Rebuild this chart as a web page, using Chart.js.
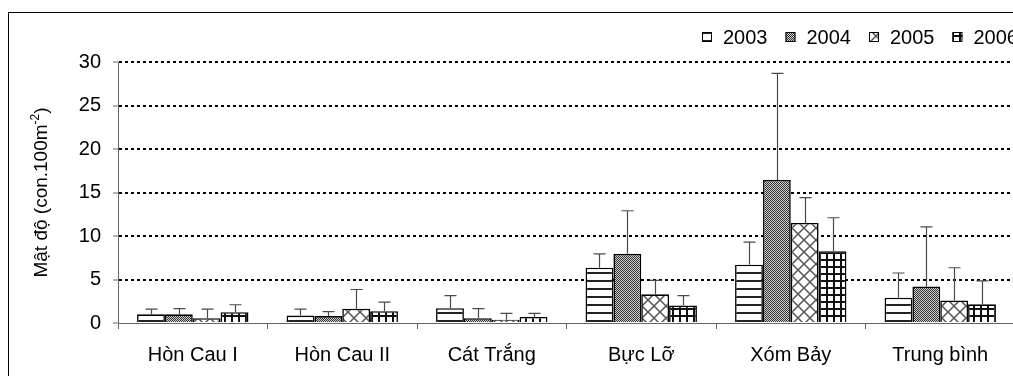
<!DOCTYPE html>
<html>
<head>
<meta charset="utf-8">
<script src="https://cdn.jsdelivr.net/npm/chart.js@4.4.1/dist/chart.umd.min.js"></script>
<style>
  html, body { margin: 0; padding: 0; background: #fff; overflow: hidden; }
  #wrap { position: relative; width: 1040px; height: 376px; }
</style>
</head>
<body>
<div id="wrap"><canvas id="c" width="1040" height="376"></canvas></div>
<script>
// Sampling sites and survey years
const sites = ['Hòn Cau I', 'Hòn Cau II', 'Cát Trắng', 'Bực Lỡ', 'Xóm Bảy', 'Trung bình'];
const years = ['2003', '2004', '2005', '2006'];

// Mean density (con.100m-2) per site, one array per year
const mean2003 = [1.0, 0.85, 1.7, 6.35, 6.7, 2.9];
const mean2004 = [1.0, 0.8, 0.55, 7.95, 16.45, 4.2];
const mean2005 = [0.55, 1.65, 0.38, 3.3, 11.5, 2.6];
const mean2006 = [1.25, 1.35, 0.7, 2.0, 8.25, 2.15];

// Standard deviation (upper error bar) per site
const sd2003 = [0.6, 0.75, 1.45, 1.6, 2.6, 2.85];
const sd2004 = [0.65, 0.5, 1.1, 4.95, 12.25, 6.85];
const sd2005 = [1.05, 2.2, 0.72, 1.6, 2.9, 3.75];
const sd2006 = [0.85, 1.05, 0.4, 1.15, 3.85, 2.7];

// Value axis ticks
const yTickValues = [0, 5, 10, 15, 20, 25, 30];

const FONT = 'Liberation Sans, Arial, Helvetica, sans-serif';

// Monochrome fill patterns, one per year
function makePattern(kind) {
  const t = document.createElement('canvas');
  const g = t.getContext('2d');
  let s;
  if (kind === 'hlines') {
    s = 8; t.width = s; t.height = s;
    g.fillStyle = '#fff'; g.fillRect(0, 0, s, s);
    g.fillStyle = '#222'; g.fillRect(0, 0, s, 2);
  } else if (kind === 'stipple') {
    s = 2; t.width = s; t.height = s;
    g.fillStyle = '#cfcfcf'; g.fillRect(0, 0, s, s);
    g.fillStyle = '#333'; g.fillRect(0, 0, 1, 1); g.fillRect(1, 1, 1, 1);
  } else if (kind === 'diamond') {
    s = 12; t.width = s; t.height = s;
    g.fillStyle = '#fff'; g.fillRect(0, 0, s, s);
    g.strokeStyle = '#555'; g.lineWidth = 1.5;
    g.beginPath();
    g.moveTo(-2, -2); g.lineTo(s + 2, s + 2);
    g.moveTo(s + 2, -2); g.lineTo(-2, s + 2);
    g.stroke();
  } else {
    s = 7; t.width = s; t.height = s;
    g.fillStyle = '#fff'; g.fillRect(0, 0, s, s);
    g.fillStyle = '#111';
    g.fillRect(0, 0, s, 2); g.fillRect(0, 0, 2, s);
  }
  return g.createPattern(t, 'repeat');
}

const means = [mean2003, mean2004, mean2005, mean2006];
const sds = [sd2003, sd2004, sd2005, sd2006];
const fills = ['hlines', 'stipple', 'diamond', 'grid'].map(makePattern);

// Outer frame of the figure
const framePlugin = {
  id: 'frame',
  afterDraw(chart) {
    const ctx = chart.ctx;
    ctx.save();
    ctx.strokeStyle = '#000';
    ctx.lineWidth = 1;
    ctx.strokeRect(8.5, 12.5, 3000, 3000);
    ctx.restore();
  }
};

// Upper error bars with caps
const errorBarPlugin = {
  id: 'errorBars',
  afterDatasetsDraw(chart) {
    const ctx = chart.ctx;
    const y = chart.scales.y;
    ctx.save();
    ctx.strokeStyle = '#4a4a4a';
    ctx.lineWidth = 1.2;
    chart.data.datasets.forEach((ds, i) => {
      const meta = chart.getDatasetMeta(i);
      meta.data.forEach((bar, j) => {
        const top = y.getPixelForValue(ds.data[j] + ds.sd[j]);
        const x = Math.round(bar.x) + 0.5;
        ctx.beginPath();
        ctx.moveTo(x, bar.y);
        ctx.lineTo(x, top);
        ctx.moveTo(x - 6, top);
        ctx.lineTo(x + 6, top);
        ctx.stroke();
      });
    });
    ctx.restore();
  }
};

// Legend row at the top right
const legendPlugin = {
  id: 'patternLegend',
  afterDraw(chart) {
    const ctx = chart.ctx;
    ctx.save();
    ctx.font = '20px ' + FONT;
    ctx.textBaseline = 'middle';
    let x = 702;
    const yc = 37;
    chart.data.datasets.forEach(ds => {
      ctx.fillStyle = ds.backgroundColor;
      ctx.fillRect(x, yc - 5, 10, 10);
      ctx.strokeStyle = '#000';
      ctx.lineWidth = 1;
      ctx.strokeRect(x + 0.5, yc - 4.5, 9, 9);
      ctx.fillStyle = '#000';
      ctx.fillText(ds.label, x + 21, yc + 1);
      x += 21 + ctx.measureText(ds.label).width + 18;
    });
    ctx.restore();
  }
};

// Rotated value-axis title with superscript exponent
const yTitlePlugin = {
  id: 'yTitle',
  afterDraw(chart) {
    const ctx = chart.ctx;
    const area = chart.chartArea;
    const main = 'Mật độ (con.100m';
    const sup = '-2';
    const close = ')';
    ctx.save();
    ctx.translate(40, (area.top + area.bottom) / 2);
    ctx.rotate(-Math.PI / 2);
    ctx.fillStyle = '#000';
    ctx.textBaseline = 'alphabetic';
    ctx.font = '19px ' + FONT;
    const wMain = ctx.measureText(main).width;
    const wClose = ctx.measureText(close).width;
    ctx.font = '12px ' + FONT;
    const wSup = ctx.measureText(sup).width;
    let x = -(wMain + wSup + wClose) / 2;
    const base = 7;
    ctx.font = '19px ' + FONT;
    ctx.fillText(main, x, base);
    x += wMain;
    ctx.font = '12px ' + FONT;
    ctx.fillText(sup, x, base - 8);
    x += wSup;
    ctx.font = '19px ' + FONT;
    ctx.fillText(close, x, base);
    ctx.restore();
  }
};

new Chart(document.getElementById('c'), {
  type: 'bar',
  data: {
    labels: sites,
    datasets: years.map((yr, i) => ({
      label: yr,
      data: means[i],
      sd: sds[i],
      backgroundColor: fills[i],
      borderColor: '#000',
      borderWidth: 1.6,
      categoryPercentage: 0.745,
      barPercentage: 1
    }))
  },
  options: {
    responsive: false,
    animation: false,
    devicePixelRatio: 1,
    layout: { padding: { left: 8, top: 62, right: 25, bottom: 0 } },
    plugins: { legend: { display: false }, tooltip: { enabled: false } },
    scales: {
      x: {
        grid: { offset: true, drawOnChartArea: false, drawTicks: true, tickLength: 6, color: '#666', lineWidth: 1 },
        border: { color: '#666', width: 1 },
        ticks: { color: '#000', font: { family: FONT, size: 20 }, padding: 14, maxRotation: 0, autoSkip: false },
        afterFit(s) { s.height = 53; }
      },
      y: {
        min: 0,
        max: 30,
        afterBuildTicks(s) { s.ticks = yTickValues.map(v => ({ value: v })); },
        ticks: { color: '#000', font: { family: FONT, size: 20 }, padding: 12 },
        grid: {
          color: c => (c.tick && c.tick.value === 0) ? 'rgba(0,0,0,0)' : '#000',
          lineWidth: 2,
          tickLength: 5,
          tickColor: '#666',
          tickWidth: 1,
          tickBorderDash: []
        },
        border: { color: '#666', width: 1, dash: [3, 3] },
        afterFit(s) { s.width = 110; }
      }
    }
  },
  plugins: [framePlugin, errorBarPlugin, legendPlugin, yTitlePlugin]
});
</script>
</body>
</html>
